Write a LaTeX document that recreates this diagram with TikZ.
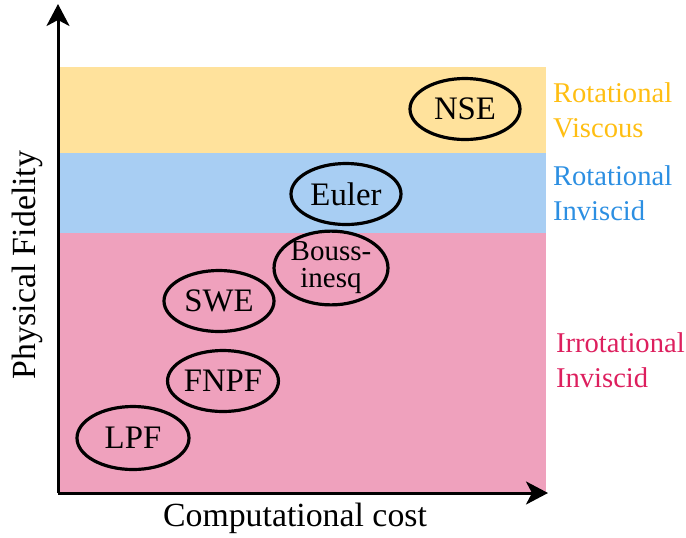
\documentclass[tikz,border=0pt]{standalone}
\usepackage{fontspec}
\setmainfont{Liberation Serif}
\usepackage{xcolor}
\usepackage{tikz}
\usetikzlibrary{arrows.meta, shapes.geometric}
\definecolor{bandyellow}{HTML}{FFE29C}
\definecolor{bandblue}{HTML}{A8CEF3}
\definecolor{bandpink}{HTML}{EFA1BD}
\definecolor{txtyellow}{HTML}{FFBE12}
\definecolor{txtblue}{HTML}{2C8FE2}
\definecolor{txtpink}{HTML}{DD1F5E}

\tikzset{
  model/.style={ellipse, draw=black, line width=1.6pt, inner sep=0pt,
    minimum width=55pt, minimum height=30.5pt,
    font=\fontsize{16.4}{18}\selectfont},
  regime/.style={anchor=west, align=left, font=\fontsize{14.3}{17.5}\selectfont},
  axislabel/.style={font=\fontsize{16.9}{20}\selectfont},
  axisline/.style={line width=1.5pt, -{Stealth[length=11pt, width=11.5pt, inset=3pt]}}
}

\begin{document}
\begin{tikzpicture}[x=0.5pt, y=-0.5pt]
\useasboundingbox (0,0) rectangle (686,537);
% flow regime bands
\fill[bandyellow] (58,67) rectangle (546,153);
\fill[bandblue] (58,153) rectangle (546,233);
\fill[bandpink] (58,233) rectangle (546,493);
% axes
\coordinate (origin) at (58,493);
\coordinate (ytip) at (58,4);
\coordinate (xtip) at (548,493);
\draw[axisline] (origin) -- (ytip);
\draw[axisline] (origin) -- (xtip);
\node[axislabel] (xlab) at (295,518) {Computational cost};
\node[axislabel, rotate=90] (ylab) at (27,265) {Physical Fidelity};
% models
\node[model] (nse) at (465,109) {NSE};
\node[model] (euler) at (346,194) {Euler};
\node[model, align=center, font=\fontsize{14.5}{13.5}\selectfont] (bouss) at (331,268) {Bouss-\\inesq};
\node[model] (swe) at (219,301) {SWE};
\node[model] (fnpf) at (223,381) {FNPF};
\node[model, minimum width=56pt, minimum height=31.5pt] (lpf) at (133,438) {LPF};
% regime labels
\node[regime, text=txtyellow] (rotvisc) at (546,110) {Rotational\\Viscous};
\node[regime, text=txtblue] (rotinv) at (546,193) {Rotational\\Inviscid};
\node[regime, text=txtpink] (irrinv) at (549,360) {Irrotational\\Inviscid};
\end{tikzpicture}
\end{document}
